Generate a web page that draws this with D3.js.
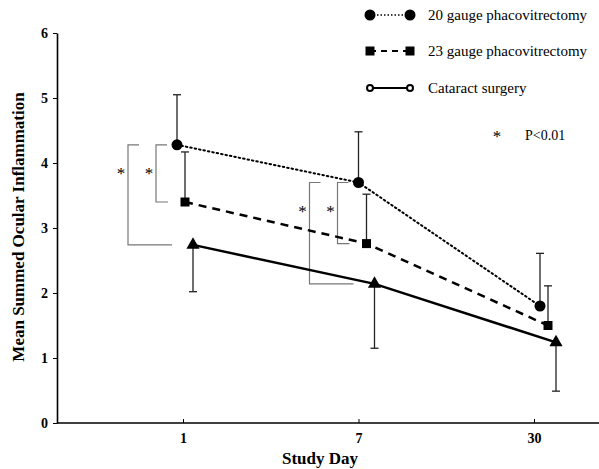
<!DOCTYPE html>
<html>
<head>
<meta charset="utf-8">
<script src="https://cdn.jsdelivr.net/npm/d3@7"></script>
<style>
  body { margin: 0; background: #fff; }
  svg { display: block; font-family: "Liberation Serif", "Times New Roman", serif; }
</style>
</head>
<body>
<svg id="chart" width="599" height="469"></svg>
<script>
// study days and tick labels
const days = ['1', '7', '30'];
const yTicks = [0, 1, 2, 3, 4, 5, 6];

// mean summed ocular inflammation and error (SD) per group
const mean20 = [4.28, 3.70, 1.80];
const err20 = [0.77, 0.78, 0.81];
const mean23 = [3.40, 2.76, 1.50];
const err23 = [0.77, 0.76, 0.61];
const meanCat = [2.74, 2.14, 1.24];
const errCat = [0.72, 0.99, 0.75];

const seriesNames = ['20 gauge phacovitrectomy', '23 gauge phacovitrectomy', 'Cataract surgery'];
// days with significance brackets (P<0.01)
const sigDays = ['1', '7'];

const svg = d3.select('#chart');

// scales
const y = d3.scaleLinear().domain([0, 6]).range([423, 33]);
const xTick = d3.scalePoint().domain(days).range([183, 534]);
const x = d3.scalePoint().domain(days).range([185, 548]);

const series = [
  { name: seriesNames[0], mean: mean20, err: err20, off: -8, dir: 1, dash: '1.5,3', width: 2, cap: 'round', shape: 'circle' },
  { name: seriesNames[1], mean: mean23, err: err23, off: 0, dir: 1, dash: '8,6', width: 2.5, cap: 'butt', shape: 'square' },
  { name: seriesNames[2], mean: meanCat, err: errCat, off: 8, dir: -1, dash: null, width: 2.5, cap: 'butt', shape: 'triangle' }
];

// axes
const xAxisG = svg.append('g').attr('transform', 'translate(0,423)')
  .call(d3.axisBottom(xTick).tickSize(-4).tickSizeOuter(0).tickPadding(10));
xAxisG.select('.domain').remove();
xAxisG.selectAll('line').attr('stroke', '#000').attr('stroke-width', 1);
xAxisG.selectAll('text').attr('font-size', 14).attr('font-weight', 'bold')
  .attr('font-family', '"Liberation Serif", serif').attr('fill', '#000');
svg.append('line').attr('x1', 57).attr('x2', 599).attr('y1', 423).attr('y2', 423)
  .attr('stroke', '#000').attr('stroke-width', 1.6);

const yAxisG = svg.append('g').attr('transform', 'translate(57,0)')
  .call(d3.axisLeft(y).tickValues(yTicks).tickFormat(d3.format('d')).tickSize(4).tickSizeOuter(0).tickPadding(5));
yAxisG.select('.domain').attr('stroke-width', 1.6);
yAxisG.selectAll('text').attr('font-size', 14).attr('font-weight', 'bold')
  .attr('font-family', '"Liberation Serif", serif').attr('fill', '#000');

svg.append('text').attr('x', 320).attr('y', 464).attr('text-anchor', 'middle')
  .attr('font-size', 17).attr('font-weight', 'bold').attr('fill', '#000').text('Study Day');
svg.append('text').attr('transform', 'translate(24,227) rotate(-90)').attr('text-anchor', 'middle')
  .attr('font-size', 17).attr('font-weight', 'bold').attr('fill', '#000').text('Mean Summed Ocular Inflammation');

// significance brackets
sigDays.forEach(day => {
  const i = days.indexOf(day);
  const cx = x(day) + series[0].off;
  const top = y(mean20[i]);
  const outer = cx - 49, inner = cx - 21;
  const g = svg.append('g').attr('fill', 'none').attr('stroke', '#777').attr('stroke-width', 1.2);
  g.append('path').attr('d', `M${outer + 11},${top} H${outer} V${y(meanCat[i])} H${cx - 5}`);
  g.append('path').attr('d', `M${inner + 11},${top} H${inner} V${y(mean23[i])} H${cx - 9}`);
  [outer, inner].forEach(bx => {
    svg.append('text').attr('x', bx - 7).attr('y', top + 34).attr('text-anchor', 'middle')
      .attr('font-size', 17).attr('fill', '#000').text('*');
  });
});

// lines
series.forEach(s => {
  const line = d3.line().x((d, i) => x(days[i]) + s.off).y(d => y(d));
  svg.append('path').datum(s.mean).attr('d', line).attr('fill', 'none')
    .attr('stroke', '#000').attr('stroke-width', s.width)
    .attr('stroke-dasharray', s.dash).attr('stroke-linecap', s.cap);
});

// error bars
series.forEach(s => {
  s.mean.forEach((m, i) => {
    const cx = x(days[i]) + s.off;
    const y2 = y(m + s.dir * s.err[i]);
    svg.append('line').attr('x1', cx).attr('x2', cx).attr('y1', y(m)).attr('y2', y2)
      .attr('stroke', '#222').attr('stroke-width', 1.3);
    svg.append('line').attr('x1', cx - 4).attr('x2', cx + 4).attr('y1', y2).attr('y2', y2)
      .attr('stroke', '#222').attr('stroke-width', 1.3);
  });
});

// markers
function marker(g, shape, cx, cy, open) {
  if (shape === 'circle') {
    g.append('circle').attr('cx', cx).attr('cy', cy).attr('r', open ? 3 : 5.5)
      .attr('fill', open ? '#fff' : '#000').attr('stroke', '#000').attr('stroke-width', open ? 2 : 0);
  } else if (shape === 'square') {
    g.append('rect').attr('x', cx - 4.5).attr('y', cy - 4.5).attr('width', 9).attr('height', 9).attr('fill', '#000');
  } else {
    g.append('path').attr('d', d3.symbol().type(d3.symbolTriangle).size(75)())
      .attr('transform', `translate(${cx},${cy})`).attr('fill', '#000');
  }
}
series.forEach(s => {
  s.mean.forEach((m, i) => marker(svg, s.shape, x(days[i]) + s.off, y(m), false));
});

// legend
const legendY = [15, 51, 88];
const legendShapes = ['circle', 'square', 'circle'];
series.forEach((s, k) => {
  const g = svg.append('g');
  g.append('line').attr('x1', 370).attr('x2', 410).attr('y1', legendY[k]).attr('y2', legendY[k])
    .attr('stroke', '#000').attr('stroke-width', k === 0 ? 1.3 : 2)
    .attr('stroke-dasharray', k === 0 ? '1.5,2' : k === 1 ? '6,5' : null);
  marker(g, legendShapes[k], 370, legendY[k], k === 2);
  marker(g, legendShapes[k], 410, legendY[k], k === 2);
  g.append('text').attr('x', 428).attr('y', legendY[k] + 5).attr('font-size', 15).attr('fill', '#000').text(s.name);
});

svg.append('text').attr('x', 497).attr('y', 142).attr('text-anchor', 'middle').attr('font-size', 17).attr('fill', '#000').text('*');
svg.append('text').attr('x', 525).attr('y', 140).attr('font-size', 14).attr('fill', '#000').text('P<0.01');
</script>
</body>
</html>
